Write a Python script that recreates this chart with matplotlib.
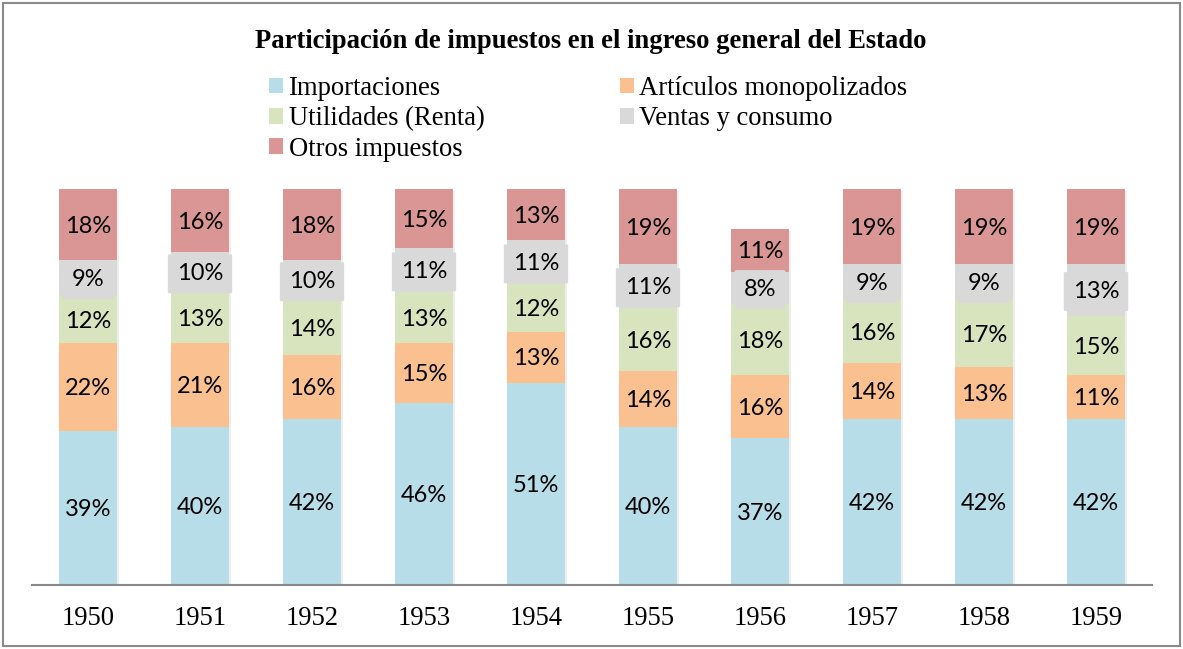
import matplotlib
matplotlib.use("Agg")
import matplotlib.pyplot as plt
from matplotlib.patches import Patch, Rectangle
import matplotlib.patheffects as pe
import numpy as np

years = ["1950", "1951", "1952", "1953", "1954", "1955", "1956", "1957", "1958", "1959"]
series_names = ["Importaciones", "Artículos monopolizados", "Utilidades (Renta)",
                "Ventas y consumo", "Otros impuestos"]
importaciones = [39, 40, 42, 46, 51, 40, 37, 42, 42, 42]
articulos = [22, 21, 16, 15, 13, 14, 16, 14, 13, 11]
utilidades = [12, 13, 14, 13, 12, 16, 18, 16, 17, 15]
ventas = [9, 10, 10, 11, 11, 11, 8, 9, 9, 13]
otros = [18, 16, 18, 15, 13, 19, 11, 19, 19, 19]
title = "Participación de impuestos en el ingreso general del Estado"

colors = ["#B7DDE8", "#FAC090", "#D7E4BD", "#D9D9D9", "#D99694"]
series = [importaciones, articulos, utilidades, ventas, otros]
boxed = [False, False, False, True, False]   # only "Ventas y consumo" labels carry a filled box

W, H = 1183, 649
fig = plt.figure(figsize=(W / 100, H / 100), dpi=100)
ax = fig.add_axes([32 / W, (H - 585) / H, 1120 / W, 396 / H])

x = np.arange(len(years))
bw = 0.52
totals = np.sum(np.array(series, dtype=float), axis=0)
ax.bar(x, totals, width=bw, color="white", edgecolor="none", zorder=1.5,
       path_effects=[pe.SimplePatchShadow(offset=(1.5, -1.5), shadow_rgbFace="#AAAAAA", alpha=0.2),
                     pe.Normal()])

bottom = np.zeros(len(years))
for name, vals, col, bx in zip(series_names, series, colors, boxed):
    vals = np.array(vals, dtype=float)
    ax.bar(x, vals, bottom=bottom, width=bw, color=col, edgecolor="none", zorder=2)
    for xi, b, v in zip(x, bottom, vals):
        kw = {}
        if bx:
            kw["bbox"] = dict(boxstyle="round,pad=0.38,rounding_size=0.05",
                              facecolor=col, edgecolor="none")
        ax.text(xi, b + v / 2 - 0.4, f"{int(v)}%", ha="center", va="center",
                fontsize=17, family=["Lato", "DejaVu Sans"], color="black", zorder=4, **kw)
    bottom += vals

ax.set_xlim(-0.5, len(years) - 0.5)
ax.set_ylim(0, 100)
ax.set_xticks(x)
ax.set_xticklabels(years, family=["Liberation Serif"], fontsize=19.2)
ax.tick_params(axis="x", length=0, pad=15)
ax.set_yticks([])
for s in ["top", "right", "left"]:
    ax.spines[s].set_visible(False)
ax.spines["bottom"].set_color("#888888")
ax.spines["bottom"].set_linewidth(1.5)
ax.spines["bottom"].set_zorder(5)

fig.text(591 / W, 1 - 42 / H, title, ha="center", va="center",
         family=["Liberation Serif"], fontweight="bold", fontsize=19.2)

order = [0, 2, 4, 1, 3]
handles = [Patch(facecolor=colors[i], edgecolor="none") for i in order]
labels = [series_names[i] for i in order]
fig.legend(handles, labels, ncol=2, loc="upper left",
           bbox_to_anchor=(269 / W, 1 - 76 / H), frameon=False,
           prop={"family": "Liberation Serif", "size": 19.2},
           handlelength=0.52, handleheight=0.52, handletextpad=0.22,
           columnspacing=5.07, labelspacing=0.2, borderpad=0, borderaxespad=0)

fig.patches.append(Rectangle((3 / W, 3 / H), (W - 6) / W, (H - 6) / H,
                             transform=fig.transFigure, fill=False,
                             edgecolor="#8A8A8A", linewidth=1.5))

fig.savefig("out.png", dpi=100)
